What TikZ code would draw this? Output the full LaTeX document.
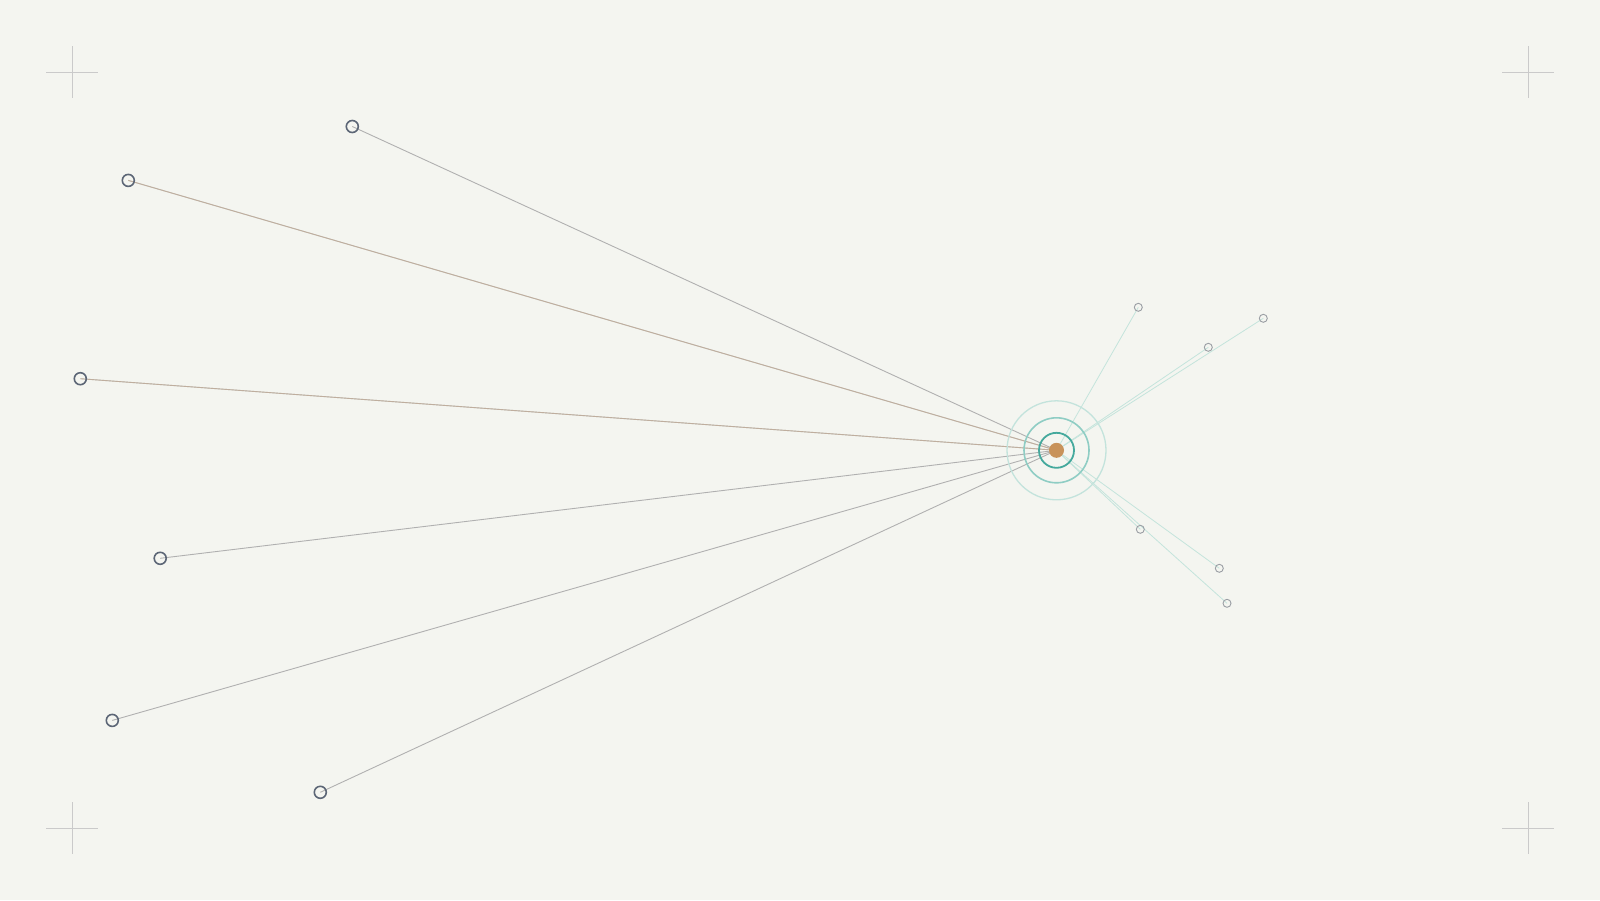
\documentclass[tikz,border=0pt]{standalone}
\usepackage{tikz}
\definecolor{bg}{HTML}{F4F5F0}
\definecolor{crossc}{HTML}{CACACA}
\definecolor{grayline}{HTML}{B0B0B0}
\definecolor{tanline}{HTML}{C9AE92}
\definecolor{tealline}{HTML}{C4E4DC}
\definecolor{nodeedge}{HTML}{5C6676}
\definecolor{smalledge}{HTML}{9A9EA4}
\definecolor{ringA}{HTML}{45A99D}
\definecolor{ringB}{HTML}{8FCDC4}
\definecolor{ringC}{HTML}{C3E3DC}
\definecolor{hubc}{HTML}{C8925A}
\begin{document}
\begin{tikzpicture}[x=1pt,y=-1pt,
  bigpt/.style={circle,draw=nodeedge,line width=1.6pt,minimum size=12pt,inner sep=0pt},
  smallpt/.style={circle,draw=smalledge,line width=0.9pt,minimum size=8pt,inner sep=0pt},
  spoke/.style={draw=grayline,line width=0.9pt},
  tanspoke/.style={draw=tanline,line width=0.9pt,opacity=0.6},
  thinspoke/.style={draw=tealline,line width=0.8pt},
  crossln/.style={draw=crossc,line width=0.8pt}]
\fill[bg] (0,0) rectangle (1600,900);
\useasboundingbox (0,0) rectangle (1600,900);
% corner crosses
\foreach \cx/\cy [count=\i] in {72/72,1528/72,72/828,1528/828}{
  \coordinate (c\i a) at (\cx-26,\cy); \coordinate (c\i b) at (\cx+26,\cy);
  \coordinate (c\i c) at (\cx,\cy-26); \coordinate (c\i d) at (\cx,\cy+26);
  \draw[crossln] (c\i a) -- (c\i b);
  \draw[crossln] (c\i c) -- (c\i d);
}
\coordinate (hub) at (1056.5,450.3);
% node positions
\coordinate (L1) at (352.3,126.5);
\coordinate (L2) at (128.3,180.4);
\coordinate (L3) at (80.3,378.7);
\coordinate (L4) at (160.2,558.3);
\coordinate (L5) at (112.3,720.4);
\coordinate (L6) at (320.3,792.3);
\coordinate (R1) at (1138.3,307.3);
\coordinate (R2) at (1208.3,347.3);
\coordinate (R3) at (1263.3,318.3);
\coordinate (R4) at (1140.3,529.3);
\coordinate (R5) at (1219.3,568.3);
\coordinate (R6) at (1227.0,603.3);
% spokes
\foreach \n in {L1,L4,L5,L6}{\draw[spoke] (hub) -- (\n);}
\foreach \n in {L2,L3}{\draw[spoke] (hub) -- (\n); \draw[tanspoke] (hub) -- (\n);}
\foreach \n in {R1,R2,R3,R4,R5,R6}{\draw[thinspoke] (hub) -- (\n);}
% rings
\draw[ringC,line width=1.3pt] (hub) circle[radius=49.5];
\draw[ringB,line width=1.6pt] (hub) circle[radius=32.5];
\draw[ringA,line width=1.8pt] (hub) circle[radius=17.5];
\fill[hubc] (hub) circle[radius=7.5];
% nodes
\foreach \n in {L1,L2,L3,L4,L5,L6}{\node[bigpt] (n\n) at (\n) {};}
\foreach \n in {R1,R2,R3,R4,R5,R6}{\node[smallpt] (n\n) at (\n) {};}
\end{tikzpicture}
\end{document}
